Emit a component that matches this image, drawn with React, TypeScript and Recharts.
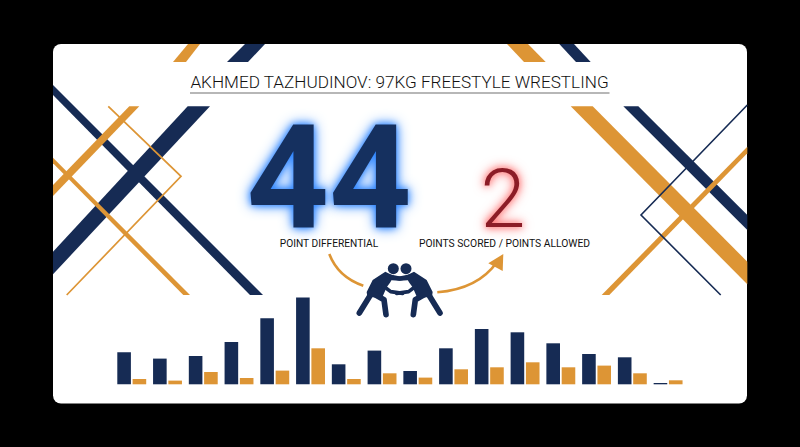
import React from "react";
import { BarChart, Bar, XAxis, YAxis } from "recharts";

const NAVY = "#162b54";
const ORANGE = "#dd9535";

const bouts = ["1","2","3","4","5","6","7","8","9","10","11","12","13","14","15","16"];
const scored = [32, 25.7, 28.3, 42.3, 66, 86.7, 20, 33.7, 13.3, 36, 55.3, 52, 41, 30.3, 27, 1.3];
const allowed = [5.3, 3.7, 12.3, 6.3, 13.7, 36, 5.3, 11, 6.7, 15, 17, 22, 17, 18.7, 11, 4];
const data = bouts.map((b, i) => ({ bout: b, scored: scored[i], allowed: allowed[i] }));

const navyPolys = [
  "245,44 265,44 248,62 227,62",
  "559.3,44 574,44 590.7,62 576,62",
  "53,85 53,95 250,295 263,295",
  "187.7,106.3 210,106.3 53,274.3 53,251.7",
  "623.3,106.3 638.3,106.3 747.3,215 747.3,230",
];
const orangePolys = [
  "188,44 200,44 186,62 173,62",
  "507,44 528,44 545.7,62 524,62",
  "129.3,106.3 139.3,106.3 53,196 53,185",
  "53,157.7 53,163.3 183.3,295 190,295",
  "747.3,146.7 747.3,153.3 609.3,295 601.7,295",
  "570.7,106.3 592.7,106.3 747.3,261.7 747.3,284.3",
];

const font = "Roboto, sans-serif";

function Wrestler({ mirror }: { mirror?: boolean }) {
  return (
    <g transform={mirror ? "translate(298,0) scale(-1,1)" : undefined}>
      <circle cx={130} cy={32} r={16.5} fill={NAVY} />
      <path d="M106,41 L68,66 L50,102 L52,116 L96,120 L110,88 L120,74 L132,54 Z" fill={NAVY} />
      <path d="M65,105 L28,165 M72,108 L102,125 L108,170" fill="none" stroke={NAVY} strokeWidth={17} strokeLinecap="round" strokeLinejoin="round" />
      <path d="M112,54 L150,62 L172,60" fill="none" stroke={NAVY} strokeWidth={13} strokeLinecap="round" strokeLinejoin="round" />
      <path d="M100,84 L122,101 L158,106" fill="none" stroke={NAVY} strokeWidth={11} strokeLinecap="round" strokeLinejoin="round" />
    </g>
  );
}

export default function App() {
  return (
    <div style={{ position: "absolute", left: 0, top: 0, width: 800, height: 447, background: "#000", overflow: "hidden" }}>
      <svg width={800} height={447} style={{ position: "absolute", left: 0, top: 0 }}>
        <rect x={53} y={44} width={694} height={359.5} rx={8} fill="#fff" />
        {navyPolys.map((p) => <polygon key={p} points={p} fill={NAVY} />)}
        {orangePolys.map((p) => <polygon key={p} points={p} fill={ORANGE} />)}
        <polyline points="108.3,106.3 181,176.3 66.7,295" fill="none" stroke={ORANGE} strokeWidth={1.7} />
        <polyline points="747.3,105 641,215 720.7,295" fill="none" stroke={NAVY} strokeWidth={1.6} />

        <text x={399.5} y={88} textAnchor="middle" fontFamily={font} fontWeight={300} fontSize={17.15} fill="#111">
          AKHMED TAZHUDINOV: 97KG FREESTYLE WRESTLING
        </text>
        <rect x={190} y={92.3} width={419.5} height={1.4} fill="#999" />

        <text x={329} y={246.7} textAnchor="middle" fontFamily={font} fontSize={10.2} fill="#111">POINT DIFFERENTIAL</text>
        <text x={504.5} y={246.7} textAnchor="middle" fontFamily={font} fontSize={10.3} fill="#111">POINTS SCORED / POINTS ALLOWED</text>

        <path d="M329.3,254 Q338,277 363.3,285.7" fill="none" stroke={ORANGE} strokeWidth={2.6} />
        <path d="M437.3,292.3 Q478,289 497,262" fill="none" stroke={ORANGE} strokeWidth={2.6} />
        <polygon points="503.3,254 488.3,263.3 502.7,271" fill={ORANGE} />

        <g transform="translate(350,258) scale(0.3333)">
          <Wrestler />
          <Wrestler mirror />
        </g>
      </svg>
      <div style={{ position: "absolute", left: 229, width: 200, top: 127, height: 104, lineHeight: "104px", textAlign: "center",
        fontFamily: font, fontWeight: 700, fontSize: 144, color: "#15305f",
        textShadow: "0 0 14px #2f86ff, 0 0 7px #2f86ff" }}>44</div>
      <div style={{ position: "absolute", left: 453, width: 100, top: 170, height: 60, lineHeight: "60px", textAlign: "center",
        fontFamily: font, fontWeight: 300, fontSize: 81, color: "#8c1c26",
        textShadow: "0 0 12px #ff5a5a, 0 0 6px #ff7a7a" }}>2</div>
      <div style={{ position: "absolute", left: 0, top: 0 }}>
        <BarChart width={800} height={447} data={data} barSize={13.6} barGap={1.7}
          margin={{ left: 114.3, right: 113.6, top: 284.3, bottom: 62.7 }}>
          <XAxis dataKey="bout" hide />
          <YAxis hide domain={[0, 100]} />
          <Bar dataKey="scored" fill={NAVY} isAnimationActive={false} />
          <Bar dataKey="allowed" fill={ORANGE} isAnimationActive={false} />
        </BarChart>
      </div>
    </div>
  );
}
